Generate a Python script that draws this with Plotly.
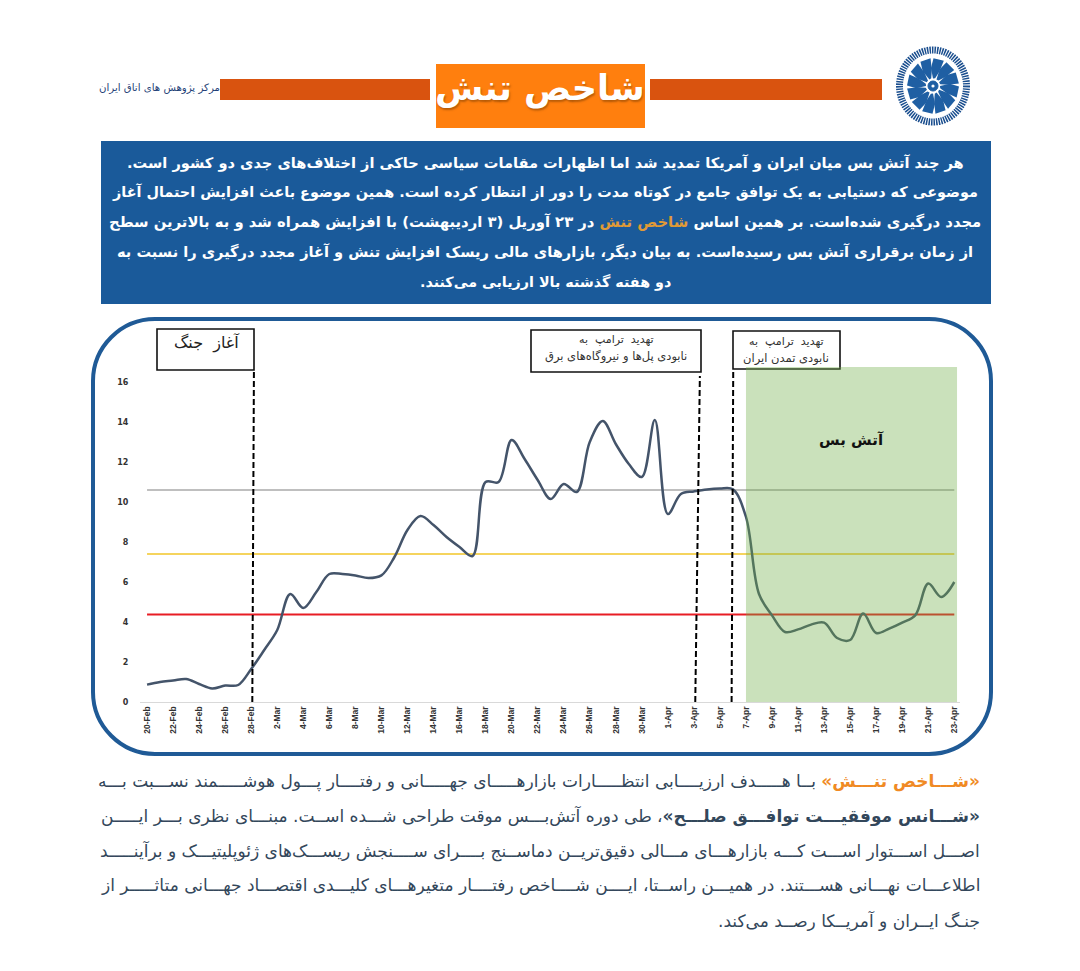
import math
import plotly.graph_objects as go

W, H = 1080, 971

dates = ["2026-02-20","2026-02-21","2026-02-22","2026-02-23","2026-02-24","2026-02-25","2026-02-26","2026-02-27","2026-02-28",
 "2026-03-01","2026-03-02","2026-03-03","2026-03-04","2026-03-05","2026-03-06","2026-03-07","2026-03-08","2026-03-09","2026-03-10",
 "2026-03-11","2026-03-12","2026-03-13","2026-03-14","2026-03-15","2026-03-16","2026-03-17","2026-03-18","2026-03-19","2026-03-20",
 "2026-03-21","2026-03-22","2026-03-23","2026-03-24","2026-03-25","2026-03-26","2026-03-27","2026-03-28","2026-03-29","2026-03-30",
 "2026-03-31","2026-04-01","2026-04-02","2026-04-03","2026-04-04","2026-04-05","2026-04-06","2026-04-07","2026-04-08","2026-04-09",
 "2026-04-10","2026-04-11","2026-04-12","2026-04-13","2026-04-14","2026-04-15","2026-04-16","2026-04-17","2026-04-18","2026-04-19",
 "2026-04-20","2026-04-21","2026-04-22","2026-04-23"]
tension = [0.87,1.0,1.07,1.15,0.9,0.68,0.82,0.85,1.65,
 2.6,3.6,5.4,4.7,5.5,6.4,6.4,6.33,6.2,6.33,
 7.25,8.6,9.3,8.85,8.25,7.75,7.3,11.0,11.0,13.1,
 12.15,11.1,10.15,10.9,10.5,13.0,14.05,12.9,11.9,11.25,
 14.1,9.4,10.4,10.53,10.63,10.67,10.63,9.25,5.4,4.33,
 3.5,3.63,3.87,3.97,3.2,3.1,4.42,3.45,3.67,3.97,
 4.33,5.92,5.25,6.0]
level_gray = 10.6
level_yellow = 7.4
level_red = 4.37

RLM = "\u200f"
NB = "\u00a0\u00a0"
top_lines = [
 "هر چند آتش بس میان ایران و آمریکا تمدید شد اما اظهارات مقامات سیاسی حاکی از اختلاف‌های جدی دو کشور است." + RLM,
 "موضوعی که دستیابی به یک توافق جامع در کوتاه مدت را دور از انتظار کرده است. همین موضوع باعث افزایش احتمال آغاز",
 "مجدد درگیری شده‌است. بر همین اساس <span style='color:#E09A36'>شاخص تنش</span> در ۲۳ آوریل (۳ اردیبهشت) با افزایش همراه شد و به بالاترین سطح",
 "از زمان برقراری آتش بس رسیده‌است. به بیان دیگر، بازارهای مالی ریسک افزایش تنش و آغاز مجدد درگیری را نسبت به",
 "دو هفته گذشته بالا ارزیابی می‌کنند." + RLM,
]
bottom_lines = [
 "<b><span style='color:#F08A24'>" + RLM + "«شـــاخص تنـــش»</span></b> بــا هـــــدف ارزیــــابی انتظـــــارات بازارهـــــای جهـــــانی و رفتــــار پـــول هوشـــــمند نســـبت بـــه",
 "<b>" + RLM + "«شـــانس موفقیـــت توافـــق صلـــح»</b>، طی دوره آتش‌بـــس موقت طراحی شـــده اســت. مبنـــای نظری بـــر ایـــــن",
 "اصـــل اســـتوار اســـت کـــه بازارهـــای مـــالی دقیق‌تریــن دماســنج بــــرای ســــنجش ریســـک‌های ژئوپلیتیـــک و برآینـــــد",
 "اطلاعـــات نهـــانی هســـتند. در همیـــن راســتا، ایــــن شــــاخص رفتــــار متغیرهـــای کلیـــدی اقتصـــاد جهـــانی متاثـــــر از",
 "جنـگ ایــران و آمریــکا رصــد می‌کند." + RLM,
]
FONT = "DejaVu Sans"
NAVY = "#1A5A9A"

def px(x): return x / W
def py(y): return 1 - y / H

shapes = []
annots = []

def rect(x0, y0, x1, y1, fill, line=None, lw=0):
    shapes.append(dict(type="rect", xref="paper", yref="paper", x0=px(x0), x1=px(x1), y0=py(y0), y1=py(y1),
                       fillcolor=fill, line=dict(color=line or fill, width=lw), layer="below"))

def text(x, y, s, size, color, anchor="center", bold=False, shadow=None):
    f = dict(family=FONT, size=size, color=color)
    if shadow: f["shadow"] = shadow
    annots.append(dict(xref="paper", yref="paper", x=px(x), y=py(y), text=("<b>%s</b>" % s) if bold else s,
                       showarrow=False, xanchor=anchor, yanchor="middle", font=f))

# header
rect(220, 79, 430, 100, "#D9530F")
rect(650, 79, 882, 100, "#D9530F")
rect(436, 64, 645, 128, "#FF7F0E")
text(540, 88, "شاخص تنش", 35, "white", bold=True, shadow="1px 2px 2px rgba(120,60,0,.5)")
text(222, 88, "مرکز پژوهش های اتاق ایران", 10.2, "#1F3F77", anchor="right")

# logo
cx, cy, rx, ry = 933, 86, 37, 39.5
def ell(a, b):
    return dict(type="circle", xref="paper", yref="paper", x0=px(cx-a), x1=px(cx+a), y0=py(cy+b), y1=py(cy-b))
shapes.append({**ell(rx-3.5, ry-3.5), "line": dict(color="#1A4E8E", width=7, dash="1.5px,1px"), "fillcolor": "white", "layer":"below"})
N = 12
for i in range(N):
    a0 = 2*math.pi*i/N
    da = 2*math.pi/N
    pts = [(7, a0), (17, a0-0.12), (26, a0+0.02), (26, a0+da*0.82), (15, a0+da*0.85), (7.5, a0+da*0.55)]
    d = "M " + " L ".join("%.5f,%.5f" % (px(cx+r*rx/37*math.cos(a)), py(cy+r*ry/37*math.sin(a))) for r, a in pts) + " Z"
    shapes.append(dict(type="path", xref="paper", yref="paper", path=d, fillcolor="#1F5FA3", line=dict(width=0), layer="below"))
shapes.append({**ell(5, 5), "line": dict(color="#1F5FA3", width=1), "fillcolor": "#1F5FA3", "layer":"below"})
shapes.append({**ell(1.6, 1.6), "line": dict(width=0), "fillcolor": "white", "layer":"below"})

# blue box
rect(101, 141, 991, 304, NAVY)
top_y = [163, 192, 222, 252, 282]
top_size = [14.6, 14.4, 14.8, 14.6, 14.3]
for s, y, sz in zip(top_lines, top_y, top_size):
    text(545, y, s, sz, "white", bold=True)

# panel
x0, y0, x1, y1, r = 93, 319, 991, 754, 62
k = 0.45*r
path = (f"M {px(x0+r)},{py(y0)} L {px(x1-r)},{py(y0)} C {px(x1-k)},{py(y0)} {px(x1)},{py(y0+k)} {px(x1)},{py(y0+r)} "
        f"L {px(x1)},{py(y1-r)} C {px(x1)},{py(y1-k)} {px(x1-k)},{py(y1)} {px(x1-r)},{py(y1)} "
        f"L {px(x0+r)},{py(y1)} C {px(x0+k)},{py(y1)} {px(x0)},{py(y1-k)} {px(x0)},{py(y1-r)} "
        f"L {px(x0)},{py(y0+r)} C {px(x0)},{py(y0+k)} {px(x0+k)},{py(y0)} {px(x0+r)},{py(y0)} Z")
shapes.append(dict(type="path", xref="paper", yref="paper", path=path, fillcolor="white",
                   line=dict(color="#1F5A96", width=4), layer="below"))

# event boxes
rect(157, 329, 254, 370, "white", "#111111", 1.6)
text(207, 343, "آغاز" + NB + "جنگ", 16, "#222222")
rect(531, 330, 701, 372, "white", "#111111", 1.6)
text(616, 339, "تهدید" + NB + "ترامپ" + NB + "به", 11, "#333333")
text(616, 356, "نابودی پل‌ها و نیروگاه‌های برق", 11.5, "#333333")
rect(733, 331, 840, 369, "white", "#111111", 1.6)
text(786, 341, "تهدید" + NB + "ترامپ" + NB + "به", 11, "#333333")
text(786, 358, "نابودی تمدن ایران", 11.5, "#333333")

# ceasefire band and dashed event lines (data coordinates)
shapes.append(dict(type="rect", xref="x", yref="y", x0="2026-04-07", x1="2026-04-23 05:00", y0=0, y1=16.75,
                   fillcolor="rgba(112,173,71,0.37)", line=dict(width=0), layer="above"))
for xb, xt, yt in [("2026-02-28 02:00", "2026-02-28 05:00", 16.6),
                   ("2026-04-03 02:30", "2026-04-03 11:00", 16.3),
                   ("2026-04-05 21:30", "2026-04-06 00:30", 16.6)]:
    shapes.append(dict(type="line", xref="x", yref="y", x0=xb, x1=xt, y0=0, y1=yt,
                       line=dict(color="black", width=2, dash="6px,3px"), layer="above"))
text(851, 440, "آتش بس", 15, "#111111", bold=True)

# bottom paragraph
bot_y = [781, 816, 851, 885, 920]
bot_size = [17, 17, 17, 17, 17]
for s, y, sz in zip(bottom_lines, bot_y, bot_size):
    text(982, y, s, sz, "#33475B", anchor="right")

fig = go.Figure()
for lvl, col, w in [(level_gray, "#BFBFBF", 1.8), (level_yellow, "#F5D45E", 2), (level_red, "#E81C24", 2)]:
    fig.add_trace(go.Scatter(x=[dates[0], dates[-1]], y=[lvl, lvl], mode="lines", line=dict(color=col, width=w), hoverinfo="skip"))
fig.add_trace(go.Scatter(x=dates, y=tension, mode="lines", line=dict(color="#44546A", width=2.5, shape="spline", smoothing=1.0)))

fig.update_layout(
    width=W, height=H, autosize=False, showlegend=False,
    margin=dict(l=0, r=0, t=0, b=0, autoexpand=False), paper_bgcolor="white", plot_bgcolor="rgba(0,0,0,0)",
    shapes=shapes, annotations=annots,
    xaxis=dict(type="date", automargin=False, domain=[px(140), px(960)], range=["2026-02-19 11:00", "2026-04-23 10:30"],
               tick0="2026-02-20", dtick=2*86400000, tickformat="%-d-%b", tickangle=-90, showgrid=False, zeroline=False,
               showline=True, linecolor="#D9D9D9", linewidth=1, ticks="",
               tickfont=dict(family="Liberation Sans", size=8.5, color="#333333", weight="bold")),
    yaxis=dict(automargin=False, domain=[py(702), py(367)], range=[0, 16.75], tickvals=[0,2,4,6,8,10,12,14,16], showgrid=False, zeroline=False,
               showline=False, ticks="outside", ticklen=9, tickcolor="rgba(0,0,0,0)",
               tickfont=dict(family="DejaVu Sans", size=8, color="#333333", weight="bold")),
)
fig.write_html("out.html", config={"displayModeBar": False},
               post_script="document.body.style.margin='0';document.body.style.overflow='hidden';")
